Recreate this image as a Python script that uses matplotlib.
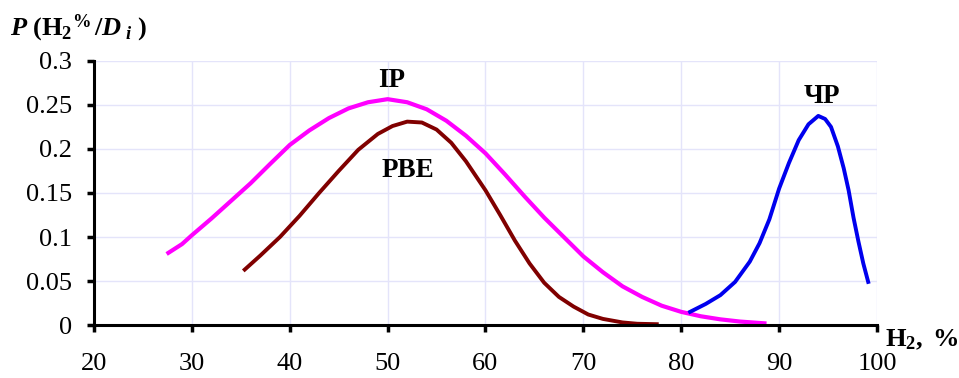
import matplotlib
matplotlib.use('Agg')
from matplotlib import pyplot as plt

# IP curve (magenta)
ip_x = [27.6, 29, 30, 32, 34, 36, 38, 40, 42, 44, 46, 48, 50, 52, 54, 56, 58, 60, 62, 64, 66, 68,
	70, 72, 74, 76, 78, 80, 82, 84, 86, 88.5]
ip_y = [0.082, 0.092, 0.102, 0.121, 0.141, 0.161, 0.183, 0.2045, 0.221, 0.235, 0.246, 0.253, 0.2565,
	0.253, 0.245, 0.232, 0.215, 0.195, 0.171, 0.146, 0.122, 0.100, 0.078, 0.060, 0.044, 0.032, 0.022,
	0.015, 0.010, 0.0065, 0.004, 0.002]

# PBE curve (dark red)
pbe_x = [35.4, 37, 39, 41, 43, 45, 47, 49, 50.5, 52, 53.5, 55, 56.5, 58, 60, 61.5, 63, 64.5, 66,
	67.5, 69, 70.5, 72, 74, 75.5, 77.5]
pbe_y = [0.063, 0.079, 0.100, 0.124, 0.150, 0.175, 0.199, 0.217, 0.226, 0.231, 0.230, 0.222, 0.207,
	0.186, 0.153, 0.125, 0.096, 0.070, 0.048, 0.032, 0.021, 0.012, 0.007, 0.003, 0.0015, 0.001]

# ЧР curve (blue)
cr_x = [80.9, 82.5, 84, 85.5, 87, 88, 89, 90, 91, 92, 93, 94, 94.7, 95.3, 96, 96.6, 97.1, 97.6,
	98.1, 98.6, 99.1]
cr_y = [0.015, 0.024, 0.034, 0.049, 0.072, 0.093, 0.120, 0.155, 0.184, 0.210, 0.228, 0.2375, 0.234,
	0.225, 0.203, 0.178, 0.153, 0.122, 0.095, 0.070, 0.049]

x_ticks = [20, 30, 40, 50, 60, 70, 80, 90, 100]
y_ticks = [0, 0.05, 0.1, 0.15, 0.2, 0.25, 0.3]
y_labels = ['0', '0.05', '0.1', '0.15', '0.2', '0.25', '0.3']

plt.rcParams['font.family'] = 'Liberation Serif'
plt.rcParams['mathtext.fontset'] = 'custom'
plt.rcParams['mathtext.rm'] = 'Liberation Serif'
plt.rcParams['mathtext.it'] = 'Liberation Serif:italic'
plt.rcParams['mathtext.bf'] = 'Liberation Serif:bold'
plt.rcParams['mathtext.bfit'] = 'Liberation Serif:italic:bold'

fig = plt.figure(figsize=(9.59, 3.78), dpi=100)
ax = fig.add_axes([0.098, 0.140, 0.8165, 0.699])

ax.plot(ip_x, ip_y, c='#ff00ff', lw=3)
ax.plot(pbe_x, pbe_y, c='#800000', lw=2.8)
ax.plot(cr_x, cr_y, c='#0000ee', lw=2.8)

ax.set_xlim(20, 100)
ax.set_ylim(0, 0.3)
ax.set_xticks(x_ticks)
ax.set_yticks(y_ticks)
ax.set_yticklabels(y_labels)
ax.grid(True, color='#e4e4fa', lw=1)
ax.set_axisbelow(True)

for s in ['top', 'right']:
	ax.spines[s].set_visible(False)
for s in ['left', 'bottom']:
	ax.spines[s].set_linewidth(2.2)
ax.tick_params(axis='both', direction='out', length=5, width=2.5, labelsize=19)
ax.tick_params(axis='x', pad=15)
ax.tick_params(axis='y', pad=11)

ax.text(50.4, 0.278, 'IP', fontsize=19.5, fontweight='bold', ha='center', va='center')
ax.text(52.1, 0.176, 'PBE', fontsize=19.5, fontweight='bold', ha='center', va='center')
ax.text(94.4, 0.259, 'ЧР', fontsize=19.5, fontweight='bold', ha='center', va='center')

fig.text(0.01, 0.905, r'$\mathbfit{P}\ \mathbf{(H_2{}^{\%}\,/}\mathbfit{D_{\ i}}\ \mathbf{)}$', fontsize=19, va='baseline')
fig.text(0.923, 0.085, r'$\mathbf{H_2}$' + r'$\mathbf{,\ \%}$', fontsize=19, va='baseline')

plt.savefig('out.png', dpi=100)
